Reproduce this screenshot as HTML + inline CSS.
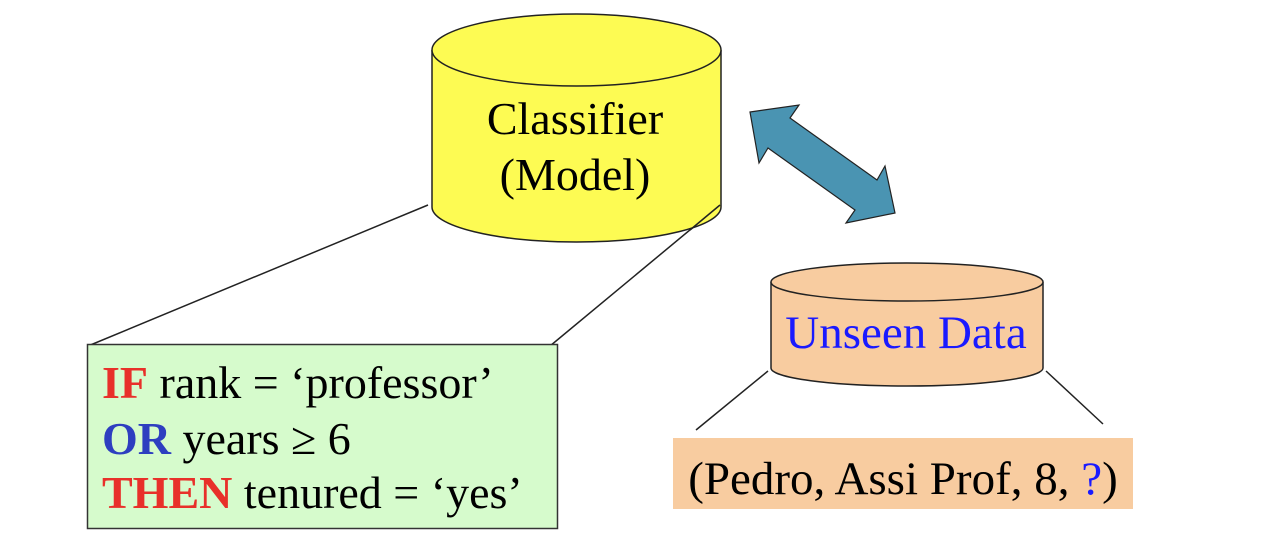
<!DOCTYPE html>
<html><head><style>
html,body{margin:0;padding:0;background:#fff;}
body{width:1270px;height:534px;overflow:hidden;}
text{font-family:"Liberation Serif",serif;}
</style></head><body>
<svg width="1270" height="534" viewBox="0 0 1270 534" xmlns="http://www.w3.org/2000/svg">
<line x1="428" y1="205" x2="88" y2="346" stroke="#222" stroke-width="1.5"/>
<line x1="720" y1="205" x2="550" y2="346" stroke="#222" stroke-width="1.5"/>
<path d="M432,50 L432,207 A144.5,35 0 0 0 721,207 L721,50" fill="#fdfb53" stroke="#222" stroke-width="1.5"/>
<ellipse cx="576.5" cy="50" rx="144.5" ry="36" fill="#fdfb53" stroke="#222" stroke-width="1.5"/>
<line x1="720" y1="205" x2="690" y2="230" stroke="#222" stroke-width="1.5"/>
<text x="575" y="134" font-size="46" text-anchor="middle" fill="#000">Classifier</text>
<text x="575" y="190" font-size="46" text-anchor="middle" fill="#000">(Model)</text>
<polygon points="750,112 799,105 790,118 877,180 885,166 895,213 846,223 855,210 768,148 759,163" fill="#4a94b2" stroke="#222" stroke-width="1.2"/>
<path d="M771,282 L771,368 A136,18 0 0 0 1043,368 L1043,282" fill="#f8cca0" stroke="#222" stroke-width="1.5"/>
<ellipse cx="907" cy="282" rx="136" ry="19" fill="#f8cca0" stroke="#222" stroke-width="1.5"/>
<text x="906" y="348" font-size="47" text-anchor="middle" fill="#1a1aff">Unseen Data</text>
<line x1="768" y1="371" x2="696" y2="430" stroke="#222" stroke-width="1.5"/>
<line x1="1046" y1="371" x2="1103" y2="424" stroke="#222" stroke-width="1.5"/>
<rect x="673" y="438" width="460" height="71" fill="#f8cca0"/>
<text x="903" y="494" font-size="47" text-anchor="middle" fill="#000">(Pedro, Assi Prof, 8, <tspan fill="#1a1aff">?</tspan>)</text>
<rect x="87.5" y="344.5" width="470" height="184" fill="#d6fbcc" stroke="#333" stroke-width="1.5"/>
<text x="102" y="398" font-size="46" fill="#000"><tspan fill="#e8302a" font-weight="bold">IF</tspan> rank = ‘professor’</text>
<text x="102" y="454" font-size="46" fill="#000"><tspan fill="#2e3ec0" font-weight="bold">OR</tspan> years ≥ 6</text>
<text x="102" y="508" font-size="46" fill="#000"><tspan fill="#e8302a" font-weight="bold">THEN</tspan> tenured = ‘yes’</text>
</svg>
</body></html>
